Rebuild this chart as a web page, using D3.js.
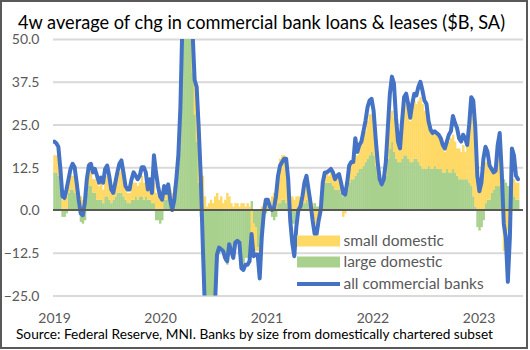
<!DOCTYPE html>
<html>
<head>
<meta charset="utf-8">
<script src="https://cdn.jsdelivr.net/npm/d3@7"></script>
<style>
  html, body { margin: 0; padding: 0; background: #fff; }
  svg { display: block; }
  text { font-family: Lato, "Open Sans", sans-serif; }
</style>
</head>
<body>
<svg id="chart" width="530" height="350"></svg>
<script>
// ---- Data (weekly, first week 2019-01-02) ----
const firstWeek = "2019-01-02";
const yearLabels = ["2019", "2020", "2021", "2022", "2023"];
const yTickValues = [-25, -12.5, 0, 12.5, 25, 37.5, 50];
const seriesNames = ["small domestic", "large domestic", "all commercial banks"];

const allBanks = [
  20,19.5,18.5,12,4,3.5,6,9,12,13.5,
  12.5,8,3,-1,-1.5,2,9,13,13.5,11,
  12,10,8,9.5,8,12,13,10,6,5,
  8,11,13.5,14.5,11,7,6,6,9,11,
  10,9,10,12.5,12.5,11,6,9,5,16,
  11,7,4,3,7,5,7.5,3,0,3,
  9,16,30,55,80,95,90,70,52,38,
  36,24,10,-10,-28,-35,-38,-36,-33,-28,
  -13,-11,-11.5,-12,-14,-15,-10,-12,-14,-9.5,
  -9,-9.5,-17,-17.5,-16,-16,-15,-7,-13.5,-13,
  -13,-20,-8,-1,3,3,1,0,0.5,4,
  10,13,14,15,15,9,-3,-9.6,-13.5,-5,
  0,1,4,8,10,6,2,-3,-7,-7,
  -3,0,8,11,11,11.5,12,11,9,10,
  10.5,8,5,4.5,8,13,14,14,21,17,
  19,20,23,26,30,32,32.5,29,21,14,
  9,7.5,9,14,24,34,39,37,27,20,
  18,26,33,34,31,27,31,34,33.5,36,
  37.5,35,32,31,26,23.5,22.5,23,22.5,22,
  21,19,18,20,22,23,27.5,25.5,24,21,
  20,22,21,19,25,33,32,24,10,5.5,
  8,15,18.5,17,13,12,11,11.5,19,22.5,
  11,-4,-8,-21,-8,18,16,10,9
];

const largeDomestic = [
  11,11,10,8,-2,-2,-1,5,6,6,
  5,4,2,-3.5,-4,-3,5,7,7,5,
  5,3,3,3,2,4,4,3,2,3,
  4,5,5,5,4,3,2,2,3,3,
  4,3,4,4,3,4,3,3,2,2,
  -3,-3,-4,-3,3,3,4,4,3,4,
  7,14,28,50,75,88,85,65,40,28,
  20,8,-2,-14,-24,-32,-35,-34,-32,-27,
  -15,-13,-12,-13,-15,-16,-11,-12,-13,-10,
  -9,-9,-15,-16,-14,-14,-12,2.6,-4,-5,
  -11,-12,-4,-2,-1,1,0,-2,-3,-2,
  2,2,3,3,2,1,-3,-4,-4,-2,
  1,1,2,2,3,2,1,1,2,1,
  1,3,6,8,8,8,8,7,6,6,
  6,5,4,4,6,8,9,9,10,11,
  12,12,13,14,15,16,17,16,13,10,
  8,7,8,10,15,18,20,17,15,14,
  14,15,16,16,15,14,14,15,15,14,
  13,12,12,12,13,12,12,13,12,12,
  12,11,11,12,11,11,12,11,10,9,
  9,9,9,9,8,7,4,1,-5,-6,
  -5,-3,2,3,3,5,6,7,7,7,
  8,9,8,7,4,5,4,3,3
];

const smallDomestic = [
  5,5,5,4,3,3,4,3,4,4,
  4,3,3,4,3,4,4,7,6,4,
  4,5,4,5,4,5,6,5,3,3,
  3,4,6,8,6,3,3,3,4,5,
  4,4,4,6,5,4,3,4,3,6,
  5,4,3,3,3,2,3,2,2,3,
  3,2,3,5,6,8,10,12,14,14,
  15,18,13,10,4,1,2,3,2,4,
  5,3,4,2,3,5,4,2,1,2,
  2,1,2,2,1,2,1,-11,-8,-7,
  -1,-2,1,2,3,2,2,4,5,7,
  9,13,13,13,11,6,4,4,3,4,
  3,3,3,4,4,3,2,1,-4,-6,
  -3,1,2,2,3,2,3,3,3,3,
  3,2,-2,-1,3,5,5,6,6,5,
  6,8,9,9,11,12,11,10,9,4,
  1,1,2,5,9,10,9,10,8,7,
  8,10,13,15,14,12,15,17,16,18,
  20,19,17,17,12,11,10,10,10,9,
  9,7,6,8,9,10,10,9,8,9,
  8,10,8,10,14,24,25,20,12,8,
  9,12,12,11,9,6,5,5,9,13,
  3,-12,-12,-6,-2,4,5,5,5
];

// ---- Layout ----
const W = 530, H = 350;
const plotLeft = 53, plotRight = 523, plotTop = 39, plotBottom = 295.5;
const colors = { small: "#FFD966", large: "#A9D18E", all: "#4472C4" };

const svg = d3.select("#chart");
svg.append("rect").attr("x", 0).attr("y", 0).attr("width", W).attr("height", H).attr("fill", "#fff");

const parse = d3.timeParse("%Y-%m-%d");
const start = parse(firstWeek);
const data = allBanks.map((v, i) => ({
  date: d3.timeDay.offset(start, 7 * i),
  all: v,
  large: largeDomestic[i],
  small: smallDomestic[i]
}));

const x = d3.scaleTime()
  .domain([new Date(2019, 0, 1), new Date(2023, 0, 1)])
  .range([54, 478.5]);
const y = d3.scaleLinear().domain([-25, 50]).range([plotBottom, plotTop]);

// clip
svg.append("defs").append("clipPath").attr("id", "plotClip")
  .append("rect").attr("x", plotLeft).attr("y", plotTop)
  .attr("width", plotRight - plotLeft).attr("height", plotBottom - plotTop);

// gridlines
const yAxisGrid = d3.axisLeft(y).tickValues(yTickValues).tickSize(-(plotRight - plotLeft)).tickFormat("");
const gGrid = svg.append("g").attr("transform", `translate(${plotLeft},0)`).call(yAxisGrid);
gGrid.select(".domain").remove();
gGrid.selectAll("line").attr("stroke", "#D9D9D9").attr("stroke-width", 2)
  .filter(d => d === 0).remove();

// y labels
const yAxis = d3.axisLeft(y).tickValues(yTickValues).tickSize(0).tickPadding(0).tickFormat(d3.format(".1f"));
const gY = svg.append("g").attr("transform", `translate(39.5,0)`).call(yAxis);
gY.select(".domain").remove();
gY.selectAll("text").attr("fill", "#595959").attr("font-size", 14)
  .attr("font-family", "Lato, sans-serif").attr("dy", "0.35em").attr("x", 0);

// stacked columns
const stack = d3.stack().keys(["large", "small"]).offset(d3.stackOffsetDiverging);
const layers = stack(data);
const bw = x(d3.timeDay.offset(start, 7)) - x(start);
const plotG = svg.append("g").attr("clip-path", "url(#plotClip)");
plotG.selectAll("g.layer").data(layers).join("g")
  .attr("class", "layer")
  .attr("fill", d => d.key === "large" ? colors.large : colors.small)
  .selectAll("rect").data(d => d).join("rect")
  .attr("x", d => x(d.data.date) - bw / 2)
  .attr("width", bw + 0.4)
  .attr("y", d => y(Math.max(d[0], d[1])))
  .attr("height", d => Math.abs(y(d[0]) - y(d[1])));

// zero line
svg.append("line").attr("x1", plotLeft).attr("x2", plotRight)
  .attr("y1", y(0)).attr("y2", y(0)).attr("stroke", "#595959").attr("stroke-width", 2);

// all banks line
const line = d3.line().x(d => x(d.date)).y(d => y(d.all));
plotG.append("path").datum(data).attr("d", line)
  .attr("fill", "none").attr("stroke", colors.all).attr("stroke-width", 4)
  .attr("stroke-linejoin", "round").attr("stroke-linecap", "round");

// x labels
const xAxis = d3.axisBottom(x)
  .tickValues(yearLabels.map(yv => new Date(+yv, 0, 1)))
  .tickFormat(d3.timeFormat("%Y")).tickSize(0).tickPadding(0);
const gX = svg.append("g").attr("transform", `translate(0,322.5)`).call(xAxis);
gX.select(".domain").remove();
gX.selectAll("text").attr("fill", "#595959").attr("font-size", 14)
  .attr("font-family", "Lato, sans-serif").attr("dy", 0);

// legend
const legend = svg.append("g");
const legItems = [
  { name: seriesNames[0], type: "rect", color: colors.small, cy: 241 },
  { name: seriesNames[1], type: "rect", color: colors.large, cy: 262 },
  { name: seriesNames[2], type: "line", color: colors.all, cy: 284 }
];
legItems.forEach(it => {
  if (it.type === "rect") {
    legend.append("rect").attr("x", 297).attr("y", it.cy - 5.5).attr("width", 43).attr("height", 11).attr("fill", it.color);
  } else {
    legend.append("line").attr("x1", 297).attr("x2", 340).attr("y1", it.cy).attr("y2", it.cy)
      .attr("stroke", it.color).attr("stroke-width", 4);
  }
  legend.append("text").attr("x", 343.5).attr("y", it.cy).attr("dy", "0.35em")
    .attr("fill", "#595959").attr("font-size", 15.5).text(it.name);
});

// title
svg.append("text").attr("x", 261.5).attr("y", 29).attr("text-anchor", "middle")
  .attr("font-size", 18.5).attr("fill", "#000")
  .attr("textLength", 487).attr("lengthAdjust", "spacingAndGlyphs")
  .text("4w average of chg in commercial bank loans & leases ($B, SA)");

// source
svg.append("text").attr("x", 16).attr("y", 339).attr("font-size", 14).attr("fill", "#000")
  .attr("textLength", 477).attr("lengthAdjust", "spacingAndGlyphs")
  .text("Source: Federal Reserve, MNI. Banks by size from domestically chartered subset");

// outer border
svg.append("rect").attr("x", 1).attr("y", 1).attr("width", 526).attr("height", 347)
  .attr("fill", "none").attr("stroke", "#595959").attr("stroke-width", 2);
</script>
</body>
</html>
